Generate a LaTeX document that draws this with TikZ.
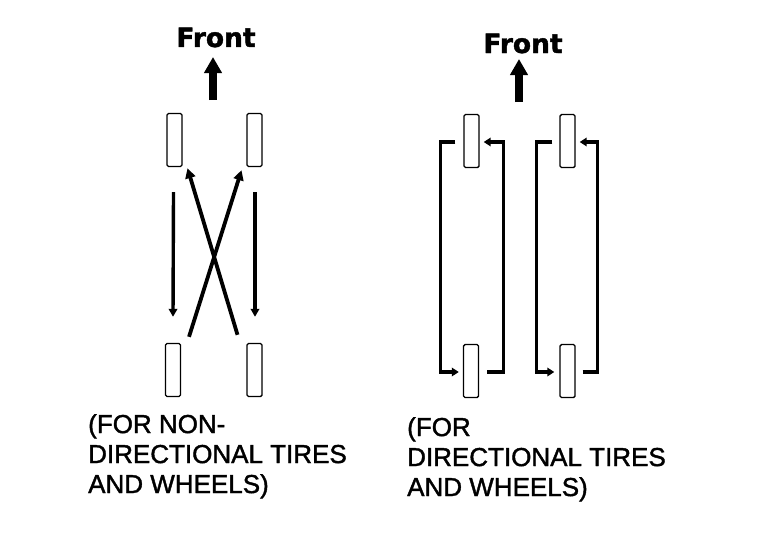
\documentclass[tikz,border=0pt]{standalone}
\usepackage{fontspec}
\setmainfont{Liberation Sans}[FakeBold=1.2]
\newfontfamily\labfont{Liberation Sans}[FakeBold=1.5]
\newfontfamily\frontfont{DejaVu Sans Bold}[FakeBold=1.5]
\usetikzlibrary{arrows.meta,calc}
\tikzset{
  tire/.style={draw, line width=1.4pt, fill=white, rounded corners=1.5pt, minimum width=15pt, minimum height=53pt, inner sep=0pt},
  conn/.style={line width=3.4pt, -{Triangle[length=8pt,width=8.5pt]}},
  brk/.style={line width=3.4pt, -{Triangle[length=7pt,width=8.5pt]}},
  crossarr/.style={line width=3.8pt, -{Triangle[length=10pt,width=10pt]}},
  frontarr/.style={line width=8pt, -{Triangle[length=16pt,width=17pt]}},
  fronttxt/.style={font=\frontfont\fontsize{26.5}{30}\selectfont, inner sep=0pt, anchor=base},
  label/.style={font=\labfont\fontsize{26}{30}\selectfont, align=left, inner sep=0pt, anchor=north west}
}
\begin{document}
\begin{tikzpicture}[x=1pt,y=-1pt]
\useasboundingbox (0,0) rectangle (770,535);
% ---------- left diagram ----------
\node[fronttxt] (front1) at (216,47) {Front};
\coordinate (fa1t) at (213,57);
\coordinate (fa1b) at (213,100);
\draw[frontarr] (fa1b) -- (fa1t);
\node[tire] (LF) at (174.5,140) {};
\node[tire] (RF) at (254.5,140) {};
\node[tire] (LR) at (173,370) {};
\node[tire] (RR) at (254.5,370) {};
\draw[conn] ($(LF.south)+(-1,25)$) -- ($(LR.north)+(0,-26)$);
\draw[conn] ($(RF.south)+(0.5,25)$) -- ($(RR.north)+(0.5,-26)$);
\draw[crossarr] ($(LR.north)+(16,-6)$) -- ($(RF.south)+(-13,3)$);
\draw[crossarr] ($(RR.north)+(-17,-8)$) -- ($(LF.south)+(13,1)$);
% ---------- right diagram ----------
\node[fronttxt] (front2) at (523,53) {Front};
\coordinate (fa2t) at (519,59);
\coordinate (fa2b) at (519,102);
\draw[frontarr] (fa2b) -- (fa2t);
\node[tire] (AF) at (471.5,141) {};
\node[tire] (AR) at (471,371) {};
\node[tire] (BF) at (567.5,141) {};
\node[tire] (BR) at (567.5,371) {};
\draw[brk] ($(AF.west)+(-8,1)$) -- ++(-15,0) |- ($(AR.west)+(-4,1)$);
\draw[brk] ($(AR.east)+(8,1)$) -- ++(16,0) |- ($(AF.east)+(4,1)$);
\draw[brk] ($(BF.west)+(-7,1)$) -- ++(-16,0) |- ($(BR.west)+(-5,1)$);
\draw[brk] ($(BR.east)+(7,1)$) -- ++(15,0) |- ($(BF.east)+(4,1)$);
% ---------- labels ----------
\node[label] (lab1) at (88,414) {(FOR NON-\\DIRECTIONAL TIRES\\AND WHEELS)};
\node[label] (lab2) at (407,417) {(FOR\\DIRECTIONAL TIRES\\AND WHEELS)};
\end{tikzpicture}
\end{document}
